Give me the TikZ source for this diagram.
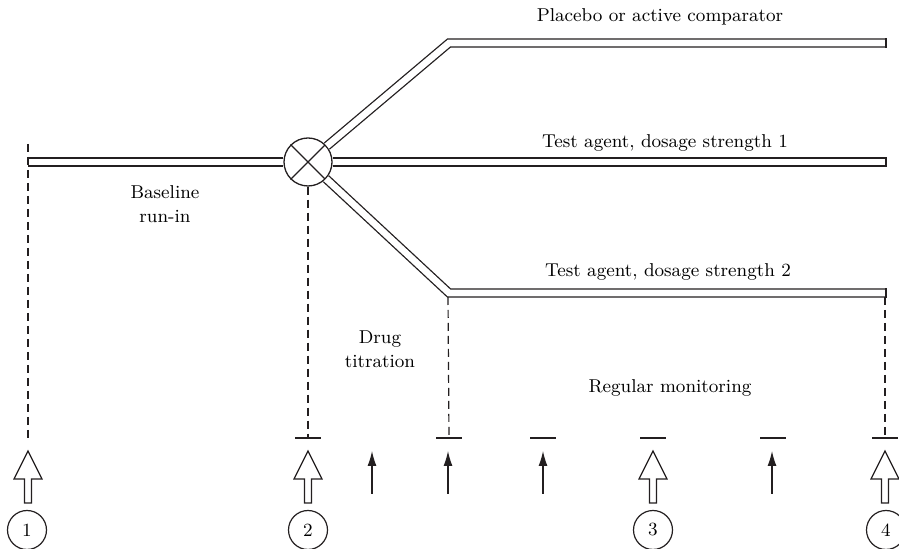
\documentclass[tikz,border=0pt]{standalone}
\usetikzlibrary{arrows.meta}
\definecolor{ink}{HTML}{231F20}

\tikzset{
  hollow/.pic={\draw[bigarrow] (0,0) -- (14,28) -- (3.5,28) -- (3.5,52) -- (-3.5,52) -- (-3.5,28) -- (-14,28) -- cycle;}
}

\begin{document}
\begin{tikzpicture}[x=0.5pt, y=-0.5pt, line join=miter, font=\fontsize{9.3}{12}\selectfont,
  arm/.style={draw=ink, line width=0.65pt, double=white, double distance=3.3pt},
  guide/.style={ink, line width=0.6pt, dash pattern=on 4pt off 2.5pt},
  tickbar/.style={ink, line width=0.7pt},
  visit/.style={circle, draw=ink, line width=0.6pt, minimum size=19.5pt, inner sep=0pt},
  dose/.style={-{Latex[length=7.5pt,width=4.5pt]}, ink, line width=0.6pt},
  bigarrow/.style={draw=ink, line width=0.6pt, fill=white}]
  % Marco
  \useasboundingbox (0,0) rectangle (899,549);

  % Parámetros
  \def\yarm{162}   % altura del brazo central
  \def\ytick{438}  % altura de las marcas
  \def\ytip{451}   % punta de las flechas

  % Aleatorización
  \node[circle, draw=ink, line width=0.65pt, minimum size=24pt, inner sep=0pt] (rand) at (308,\yarm) {};
  \draw[ink, line width=0.65pt] (rand.north west) -- (rand.south east);
  \draw[ink, line width=0.65pt] (rand.north east) -- (rand.south west);

  % Brazos del estudio
  \coordinate (start) at (28,\yarm);
  \coordinate (bendA) at (449,43);
  \coordinate (bendC) at (449,293);
  \coordinate (endA) at (886,43);
  \coordinate (endB) at (886,\yarm);
  \coordinate (endC) at (886,293);
  \draw[arm] (start) -- (rand);
  \draw[arm] (rand) -- (bendA) -- (endA);
  \draw[arm] (rand) -- (endB);
  \draw[arm] (rand) -- (bendC) -- (endC);
  \foreach \e in {endA,endB,endC}
    \draw[ink, line width=0.65pt] ([yshift=2.3pt]\e) -- ([yshift=-2.3pt]\e);

  % Textos
  \node (placebo) at (660,17) {Placebo or active comparator};
  \node (doseone) at (665,143) {Test agent, dosage strength 1};
  \node (dosetwo) at (668,272) {Test agent, dosage strength 2};
  \node[align=center] (runin) at (165,204) {Baseline\\run-in};
  \node[align=center] (titr) at (380,349) {Drug\\titration};
  \node (monit) at (670,388) {Regular monitoring};

  % Marcas de visita
  \foreach \x/\n in {308/t2,449/t3,543/t4,653/t5,773/t6,885/t7}
    \draw[tickbar] (\x-13,\ytick) -- (\x+13,\ytick) coordinate[pos=0.5] (\n);

  % Líneas guía
  \coordinate (g1) at (28,144);
  \coordinate (f1) at (28,438);
  \coordinate (g3) at (448,297);
  \coordinate (g7) at (885,297);
  \draw[guide] (g1) -- (f1);
  \draw[guide] (rand.south) -- (t2);
  \draw[guide] (g3) -- (t3);
  \draw[guide] (g7) -- (t7);

  % Flechas de visita principal
  \foreach \x in {28,308,653,885}
    \pic at (\x,\ytip) {hollow};

  % Flechas de dosis
  \foreach \x in {372,448,543,772}
    \draw[dose] (\x,494) -- (\x,\ytip);

  % Visitas numeradas
  \node[visit] (v1) at (27,530) {1};
  \node[visit] (v2) at (308,530) {2};
  \node[visit] (v3) at (653,530) {3};
  \node[visit] (v4) at (886,530) {4};
\end{tikzpicture}
\end{document}
